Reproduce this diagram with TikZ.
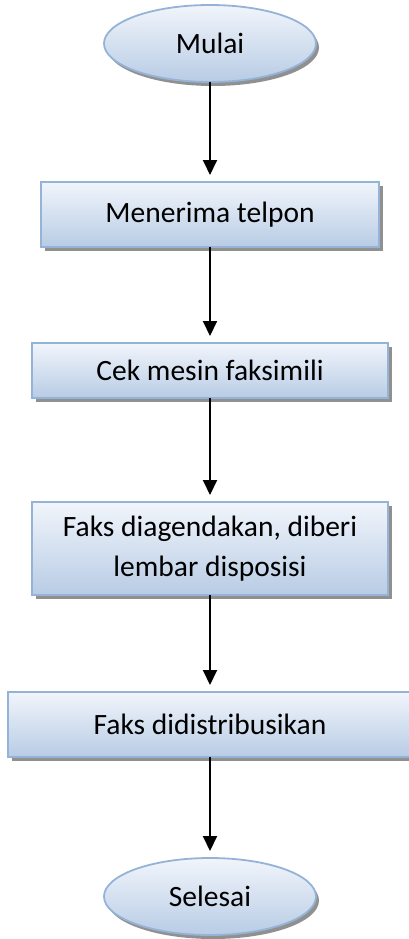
\documentclass[tikz,border=0pt]{standalone}
\usepackage{fontspec}
\setmainfont{Carlito}
\usetikzlibrary{shapes,arrows.meta,shadows,calc}
\definecolor{biruMuda}{RGB}{241,245,251}
\definecolor{biruTua}{RGB}{184,204,229}
\definecolor{biruGaris}{RGB}{149,179,215}
\definecolor{abuBayangan}{RGB}{125,125,125}
\tikzstyle{proses}  =[rectangle, draw=biruGaris, line width=1.8pt,
                    top color=biruMuda, bottom color=biruTua,
                    inner sep=0pt, outer sep=0pt, align=center,
                    font=\fontsize{29.5}{40}\selectfont,
                    drop shadow={shadow xshift=4pt, shadow yshift=-4pt,
                    fill=abuBayangan, opacity=0.85}]
\tikzstyle{terminal}=[ellipse, draw=biruGaris, line width=1.8pt,
                    top color=biruMuda, bottom color=biruTua,
                    inner sep=0pt, outer sep=0pt,
                    font=\fontsize{29.5}{40}\selectfont,
                    drop shadow={shadow xshift=3pt, shadow yshift=-4pt,
                    fill=abuBayangan, opacity=0.85}]
\tikzstyle{panah}   =[-{Triangle[width=14pt,length=15pt]},
                    line width=2pt, shorten >=7pt]

\begin{document}
\begin{tikzpicture}[x=1pt,y=1pt]
    \useasboundingbox (0,0) rectangle (409,-939);

    \node (mulai) [terminal, minimum width=212, minimum height=77]
        at (210,-43.5) {Mulai};
    \node (terima) [proses, minimum width=338, minimum height=65]
        at (210,-214.5) {Menerima telpon};
    \node (cek) [proses, minimum width=356, minimum height=55]
        at (210,-370.5) {Cek mesin faksimili};
    \node (agenda) [proses, minimum width=356, minimum height=93]
        at (210,-548.5) {Faks diagendakan, diberi\\lembar disposisi};
    \node (distribusi) [proses, minimum width=404, minimum height=65]
        at (210,-724.5) {Faks didistribusikan};
    \node (selesai) [terminal, minimum width=212, minimum height=77]
        at (210,-896.5) {Selesai};

    \foreach \i/\j in {mulai/terima,terima/cek,cek/agenda,
        agenda/distribusi,distribusi/selesai}
        \draw [panah] (\i) to (\j);

\end{tikzpicture}
\end{document}
